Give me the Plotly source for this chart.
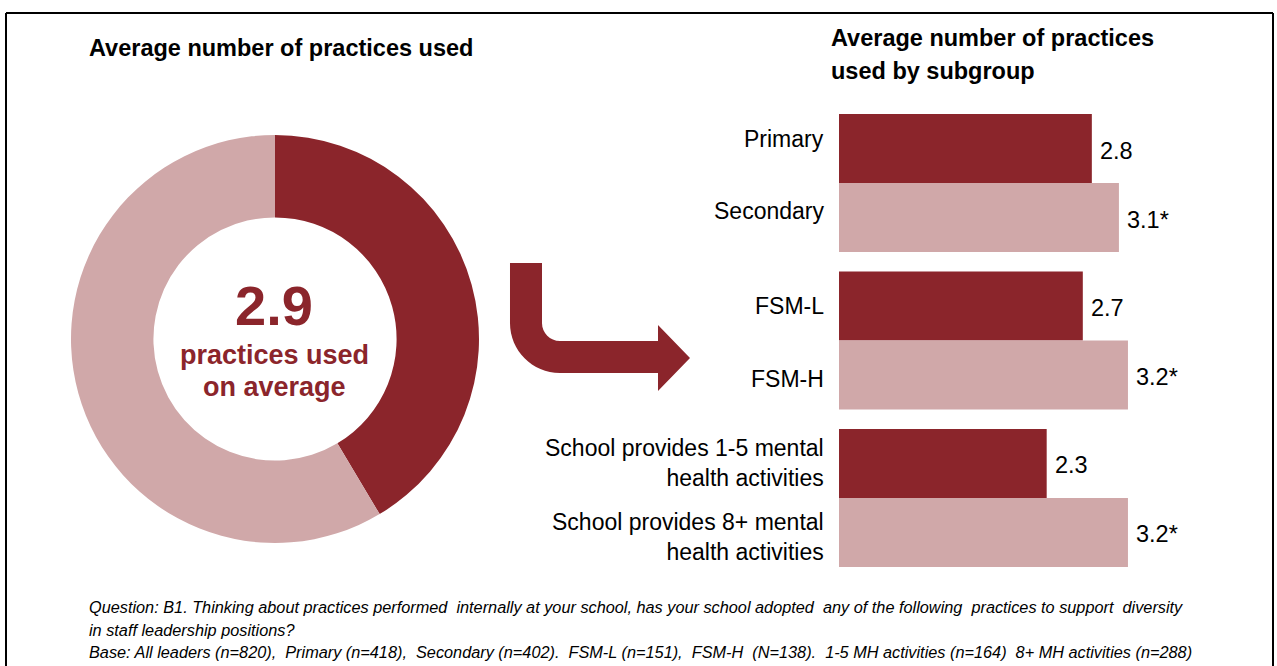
import plotly.graph_objects as go

# ---- data ----
overall_average = 2.9
total_practices = 7
donut_values = [overall_average, total_practices - overall_average]

subgroups = [
    "Primary",
    "Secondary",
    "FSM-L",
    "FSM-H",
    "School provides 1-5 mental<br>health activities",
    "School provides 8+ mental<br>health activities",
]
subgroup_avgs = [2.8, 3.1, 2.7, 3.2, 2.3, 3.2]
significant = [False, True, False, True, False, True]

footnote_lines = [
    "Question: B1. Thinking about practices performed  internally at your school, has your school adopted  any of the following  practices to support  diversity",
    "in staff leadership positions?",
    "Base: All leaders (n=820),  Primary (n=418),  Secondary (n=402).  FSM-L (n=151),  FSM-H  (N=138).  1-5 MH activities (n=164)  8+ MH activities (n=288)",
]

# ---- styling ----
W, H = 1277, 666
DARK = "#8B252B"
LIGHT = "#D0A8A9"
FONT = "Liberation Sans, Arial, sans-serif"
LABEL_SHIFT = [10, 7, 0, -4, 0, -5]   # vertical nudge of category labels (px, up positive)


def px(x):
    return x / W


def py(y):
    return 1 - y / H


fig = go.Figure()

# Donut
fig.add_trace(go.Pie(
    values=donut_values,
    marker=dict(colors=[DARK, LIGHT], line=dict(width=0)),
    hole=0.596,
    sort=False,
    direction="clockwise",
    rotation=0,
    textinfo="none",
    hoverinfo="skip",
    showlegend=False,
    domain=dict(x=[px(71), px(479)], y=[py(543.5), py(134.5)]),
))

# Subgroup bars: pairs within a group touch, groups separated by a gap
group_gap = 0.28
positions = [(i // 2) * (2 + group_gap) + (i % 2) for i in range(len(subgroups))]
colors = [DARK if i % 2 == 0 else LIGHT for i in range(len(subgroups))]

fig.add_trace(go.Bar(
    x=subgroup_avgs,
    y=positions,
    orientation="h",
    width=1.0,
    marker=dict(color=colors, line=dict(width=0)),
    hoverinfo="skip",
    showlegend=False,
    xaxis="x",
    yaxis="y",
))

x_max = 4.0
bar_left = 839
unit_px = 90.3
fig.update_layout(
    xaxis=dict(domain=[px(bar_left), px(bar_left + unit_px * x_max)], range=[0, x_max],
               visible=False, fixedrange=True),
    yaxis=dict(domain=[py(567), py(114)], range=[positions[-1] + 0.5, -0.5],
               visible=False, fixedrange=True),
)

annotations = []

# Category labels and value labels
for name, v, p, sig, sh in zip(subgroups, subgroup_avgs, positions, significant, LABEL_SHIFT):
    annotations.append(dict(
        x=px(826), xref="paper", y=p, yref="y", text=name, showarrow=False,
        xanchor="right", yanchor="middle", align="right", yshift=sh,
        font=dict(family=FONT, size=23, color="#000000"),
    ))
    annotations.append(dict(
        x=v, xref="x", y=p, yref="y", text=f"{v:.1f}" + ("*" if sig else ""),
        showarrow=False, xanchor="left", yanchor="middle", xshift=6, yshift=-2,
        font=dict(family=FONT, size=23.5, color="#000000"),
    ))

# Titles
annotations.append(dict(
    x=px(87), y=py(48), xref="paper", yref="paper", showarrow=False,
    xanchor="left", yanchor="middle", align="left",
    text="<b>Average number of practices used</b>",
    font=dict(family=FONT, size=23.5, color="#000000"),
))
annotations.append(dict(
    x=px(829), y=py(38), xref="paper", yref="paper", showarrow=False,
    xanchor="left", yanchor="middle", align="left",
    text="<b>Average number of practices</b>",
    font=dict(family=FONT, size=23.5, color="#000000"),
))
annotations.append(dict(
    x=px(829), y=py(71), xref="paper", yref="paper", showarrow=False,
    xanchor="left", yanchor="middle", align="left",
    text="<b>used by subgroup</b>",
    font=dict(family=FONT, size=23.5, color="#000000"),
))

# Donut centre text
annotations.append(dict(
    x=px(274), y=py(305), xref="paper", yref="paper", showarrow=False,
    xanchor="center", yanchor="middle",
    text=f"<b>{overall_average:.1f}</b>",
    font=dict(family=FONT, size=56, color=DARK),
))
annotations.append(dict(
    x=px(274), y=py(355), xref="paper", yref="paper", showarrow=False,
    xanchor="center", yanchor="middle", text="<b>practices used</b>",
    font=dict(family=FONT, size=27, color=DARK),
))
annotations.append(dict(
    x=px(274), y=py(387), xref="paper", yref="paper", showarrow=False,
    xanchor="center", yanchor="middle", text="<b>on average</b>",
    font=dict(family=FONT, size=27, color=DARK),
))

# Footnote
for i, line in enumerate(footnote_lines):
    annotations.append(dict(
        x=px(87), y=py(607 + i * 22.5), xref="paper", yref="paper", showarrow=False,
        xanchor="left", yanchor="middle", align="left",
        text=f"<i>{line}</i>",
        font=dict(family=FONT, size=16.3, color="#000000"),
    ))

# Bent arrow (in pixel coordinates, converted to paper)
arrow_pts = [
    ("M", [(510, 263)]),
    ("L", [(542, 263)]),
    ("L", [(542, 323)]),
    ("C", [(542, 333), (550, 341), (560, 341)]),
    ("L", [(658, 341)]),
    ("L", [(658, 325)]),
    ("L", [(690, 358)]),
    ("L", [(658, 391)]),
    ("L", [(658, 373)]),
    ("L", [(560, 373)]),
    ("C", [(532.4, 373), (510, 350.6), (510, 323)]),
]
path = ""
for cmd, pts in arrow_pts:
    path += cmd + " " + " ".join(f"{px(x):.5f},{py(y):.5f}" for x, y in pts) + " "
path += "Z"

shapes = [
    dict(type="path", path=path, xref="paper", yref="paper",
         fillcolor=DARK, line=dict(width=0)),
    # frame
    dict(type="line", xref="paper", yref="paper", x0=px(6), x1=px(1273), y0=py(13), y1=py(13),
         line=dict(color="#000000", width=2)),
    dict(type="line", xref="paper", yref="paper", x0=px(6), x1=px(6), y0=py(13), y1=py(700),
         line=dict(color="#000000", width=2)),
    dict(type="line", xref="paper", yref="paper", x0=px(1273), x1=px(1273), y0=py(13), y1=py(700),
         line=dict(color="#000000", width=2)),
]

fig.update_layout(
    width=W, height=H,
    margin=dict(l=0, r=0, t=0, b=0),
    paper_bgcolor="#FFFFFF",
    plot_bgcolor="rgba(0,0,0,0)",
    annotations=annotations,
    shapes=shapes,
    font=dict(family=FONT),
)

fig.write_html("out.html", config={"displayModeBar": False})
